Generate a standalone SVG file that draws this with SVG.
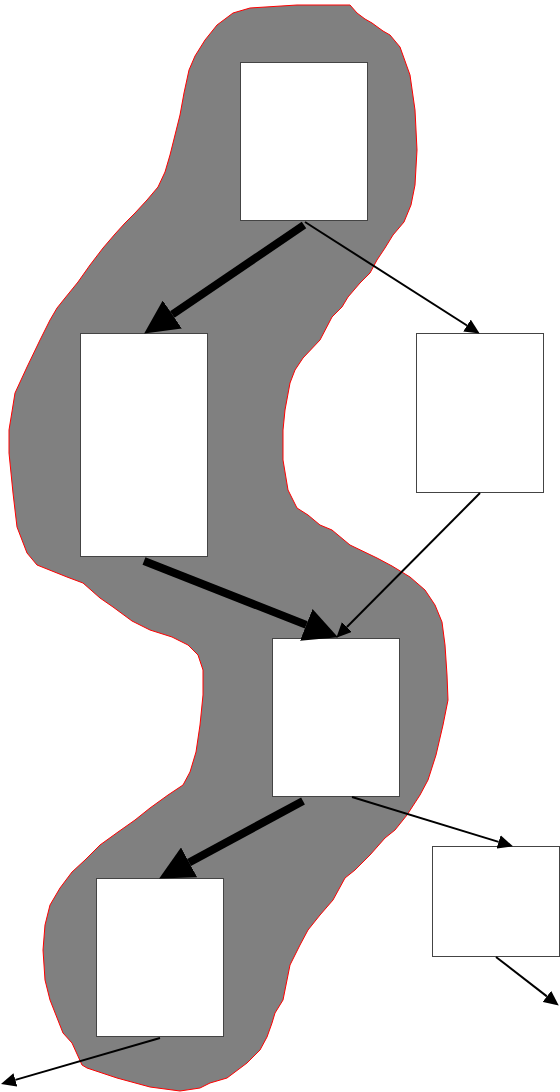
<svg xmlns="http://www.w3.org/2000/svg" width="560" height="1092" viewBox="0 0 560 1092">
<style>
.blob{fill:#808080;stroke:#ff0000;stroke-width:1}
.box{fill:#ffffff;stroke:#444444;stroke-width:1}
.thick{stroke:#000;stroke-width:8;fill:none}
.thin{stroke:#000;stroke-width:2;fill:none}
</style>
<defs>
<marker id="mThick" viewBox="0 -17 34 34" refX="0" refY="0" markerWidth="34" markerHeight="34" markerUnits="userSpaceOnUse" orient="auto"><path d="M0,-17 L34,0 L0,17z" fill="#000"/></marker>
<marker id="mThin" viewBox="0 -7 15 14" refX="0" refY="0" markerWidth="15" markerHeight="14" markerUnits="userSpaceOnUse" orient="auto"><path d="M0,-7 L15,0 L0,7z" fill="#000"/></marker>
</defs>
<g id="region">
<path class="blob" d="M233,13 L250,8 L297,5 L350,5 L357,13 L365,19 L372,23 L383,31 L390,35 L400,47 L410,75 L415,110 L417,150 L415,185 L411,205 L404,222 L393,235 L385,248 L377,260 L370,273 L360,283 L348,297 L342,307 L332,317 L320,340 L303,358 L295,370 L290,383 L285,410 L283,430 L283,460 L288,490 L297,508 L308,515 L320,525 L332,530 L350,545 L377,558 L392,566 L410,577 L425,590 L435,605 L442,622 L445,645 L447,675 L448,700 L443,725 L436,755 L428,780 L420,795 L407,815 L395,830 L385,838 L370,855 L355,870 L345,878 L333,900 L320,915 L308,930 L300,945 L290,965 L283,1000 L275,1013 L272,1023 L267,1037 L260,1050 L247,1063 L227,1078 L210,1083 L200,1088 L180,1091 L150,1087 L117,1078 L87,1068 L82,1065 L72,1043 L63,1033 L50,1000 L45,980 L43,950 L45,925 L50,905 L60,888 L72,872 L85,860 L100,845 L118,832 L135,820 L150,808 L168,795 L183,785 L190,772 L196,752 L200,725 L203,695 L203,670 L198,655 L188,645 L172,637 L150,630 L132,621 L113,607 L100,598 L83,583 L67,577 L37,565 L27,553 L17,527 L13,493 L9,453 L9,430 L15,393 L27,367 L40,340 L50,320 L57,308 L65,298 L78,282 L90,265 L103,248 L115,234 L125,223 L135,213 L147,200 L158,187 L165,172 L170,155 L175,135 L180,115 L184,93 L189,70 L195,56 L205,40 L217,25 Z"/>
</g>
<g id="node1"><rect class="box" x="240.5" y="62.5" width="127" height="158"/></g>
<g id="node2"><rect class="box" x="80.5" y="333.5" width="127" height="223"/></g>
<g id="node3"><rect class="box" x="416.5" y="333.5" width="127" height="159"/></g>
<g id="node4"><rect class="box" x="272.5" y="638.5" width="127" height="158"/></g>
<g id="node5"><rect class="box" x="432.5" y="846.5" width="127" height="110"/></g>
<g id="node6"><rect class="box" x="96.5" y="878.5" width="127" height="158"/></g>
<g id="connectors">
<line class="thick" x1="304" y1="225" x2="172.3" y2="314.5" marker-end="url(#mThick)"/>
<line class="thick" x1="144" y1="561" x2="306.3" y2="624.9" marker-end="url(#mThick)"/>
<line class="thick" x1="303" y1="801" x2="189.1" y2="862.4" marker-end="url(#mThick)"/>
<line class="thin" x1="305" y1="222" x2="467" y2="325.5" marker-end="url(#mThin)"/>
<line class="thin" x1="480" y1="493" x2="346.9" y2="627" marker-end="url(#mThin)"/>
<line class="thin" x1="352" y1="797" x2="498.6" y2="841.9" marker-end="url(#mThin)"/>
<line class="thin" x1="496" y1="957" x2="546.9" y2="996.4" marker-end="url(#mThin)"/>
<line class="thin" x1="160" y1="1038" x2="15.4" y2="1079.9" marker-end="url(#mThin)"/>
</g>
</svg>
